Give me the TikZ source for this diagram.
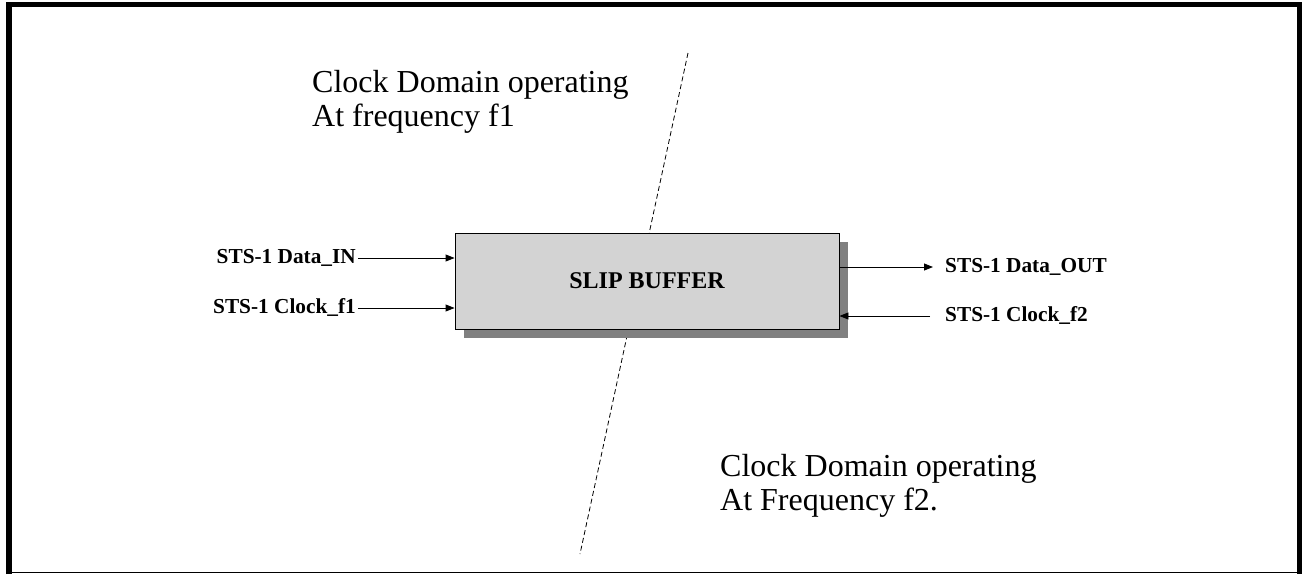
\documentclass[tikz,border=0pt]{standalone}
\usepackage{fontspec}
\setmainfont{Liberation Serif}
\usetikzlibrary{arrows.meta,shadows}
\definecolor{boxgray}{RGB}{211,211,211}
\definecolor{shadowgray}{RGB}{128,128,128}
\begin{document}
\begin{tikzpicture}[x=1pt,y=-1pt,
  frameline/.style={line width=5.5pt},
  divider/.style={dash pattern=on 5pt off 3pt, line width=0.8pt},
  lbl/.style={font=\fontsize{21.3}{25}\selectfont\bfseries, text height=15pt, text depth=5pt, inner sep=2pt},
  arr/.style={-{Triangle[length=9pt,width=7pt]}, line width=0.9pt},
  domaintext/.style={font=\fontsize{32}{34}\selectfont, align=left, inner sep=0pt},
  buffer/.style={draw, line width=0.9pt, fill=boxgray, minimum width=384pt, minimum height=96pt,
    font=\fontsize{24}{28}\selectfont\bfseries,
    drop shadow={shadow xshift=9pt, shadow yshift=-9pt, fill=shadowgray, opacity=1}}
]
\useasboundingbox (0,0) rectangle (1302,574);
% frame
\draw[frameline] (9,574) -- (9,4.5) -- (1299.5,4.5) -- (1299.5,574);
\draw[line width=1pt] (9,572.7) -- (1299.5,572.7);
% clock domain divider
\coordinate (dtop) at (688,53);
\coordinate (dbot) at (580,554);
\draw[divider] (dtop) -- (dbot);
% domain texts
\node[domaintext, anchor=base west] (d1) at (312,126) {Clock Domain operating\\At frequency f1};
\node[domaintext, anchor=base west] (d2) at (720,510) {Clock Domain operating\\At Frequency f2.};
% slip buffer
\node[buffer] (sb) at (647,281) {SLIP BUFFER};
% labels
\node[lbl, anchor=east] (din) at (358,258) {STS-1 Data\_IN};
\node[lbl, anchor=east] (cf1) at (358,308) {STS-1 Clock\_f1};
\node[lbl, anchor=west] (dout) at (943,267) {STS-1 Data\_OUT};
\node[lbl, anchor=west] (cf2) at (943,316) {STS-1 Clock\_f2};
% connectors
\draw[arr] (din.east) -- (din.east -| sb.west);
\draw[arr] (cf1.east) -- (cf1.east -| sb.west);
\draw[arr] (dout.west -| sb.east) -- ([xshift=-10pt]dout.west);
\draw[arr] ([xshift=-13pt]cf2.west) -- (cf2.west -| sb.east);
\end{tikzpicture}
\end{document}
